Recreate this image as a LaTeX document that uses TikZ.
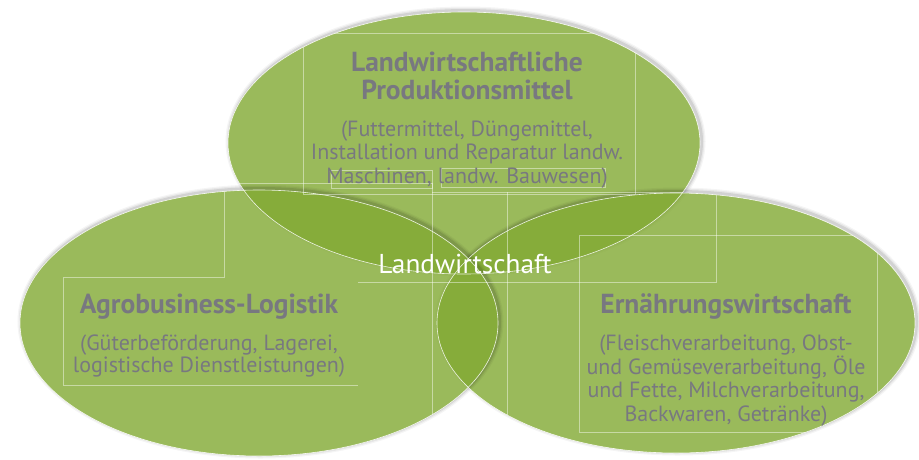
\documentclass[tikz,border=0pt]{standalone}
\usepackage{fontspec}
\setmainfont{PT Sans}
\definecolor{vgreen}{RGB}{129,169,50}
\definecolor{txtgray}{RGB}{120,120,128}
\newcommand\vennshape[3]{%
  \begin{scope}[even odd rule]
    \clip (-20,-20) rectangle (940,480) (#1) ellipse [x radius=#2, y radius=#3];
    \foreach \w/\o in {8/0.04,5.5/0.06,3/0.09}
      \draw[line width=\w pt, draw=black, draw opacity=\o] ([shift={(1.5,-1.5)}]#1) ellipse [x radius=#2, y radius=#3];
  \end{scope}
  \fill[venn] (#1) ellipse [x radius=#2, y radius=#3];
}
\newcommand\vennedge[3]{\draw[vedge] (#1) ellipse [x radius=#2, y radius=#3];}
\begin{document}
\begin{tikzpicture}[x=1pt,y=-1pt,
  venn/.style={fill=vgreen, fill opacity=0.8},
  vedge/.style={draw=white, line width=0.6pt, draw opacity=0.85},
  frame/.style={draw=white, line width=0.6pt, draw opacity=0.45},
  title/.style={text=txtgray, font=\bfseries\fontsize{27.5}{28}\selectfont, align=center, inner sep=0pt, anchor=base},
  sub/.style={text=txtgray, font=\fontsize{22}{23.3}\selectfont, align=center, inner sep=0pt, anchor=base},
  center label/.style={text=white, font=\fontsize{27.3}{30}\selectfont, inner sep=0pt, anchor=base},
]
\useasboundingbox (0,0) rectangle (919,459);
% ellipses: top, right, left
\vennshape{464,143}{236}{131}
\vennshape{676,323}{239}{130}
\vennshape{259,323}{239}{133}
\vennedge{464,143}{236}{131}
\vennedge{676,323}{239}{130}
\vennedge{259,323}{239}{133}
% faint text frames
\begin{scope}
  \clip (464,143) ellipse [x radius=236, y radius=131]
        (676,323) ellipse [x radius=239, y radius=130]
        (259,323) ellipse [x radius=239, y radius=133];
  \draw[frame] (303,33) rectangle (635,194);
  \draw[frame] (63,385) -- (63,277) -- (224,277) -- (224,183) -- (432,183);
  \draw[frame] (63,385) -- (358,385);
  \draw[frame] (432,183) -- (432,470);
  \draw[frame] (507,192) -- (507,470);
  \draw[frame] (432,192) -- (716,192) -- (716,282) -- (358,282);
  \draw[frame] (579,235) rectangle (877,432);
  \draw[frame] (331,170) rectangle (432,188);
  \draw[frame] (441,168) rectangle (605,187);
\end{scope}
% texts
\node[title] (ttop) at (467,99) {Landwirtschaftliche\\Produktionsmittel};
\node[sub] (stop) at (467,183) {(Futtermittel, Düngemittel,\\Installation und Reparatur landw.\\Maschinen, landw. Bauwesen)};
\node[title] (tleft) at (209,313) {Agrobusiness-Logistik};
\node[sub, font=\fontsize{22}{20}\selectfont] (sleft) at (209,372) {(Güterbeförderung, Lagerei,\\logistische Dienstleistungen)};
\node[title] (tright) at (726,313) {Ernährungswirtschaft};
\node[sub] (sright) at (726,421) {(Fleischverarbeitung, Obst-\\und Gemüseverarbeitung, Öle\\und Fette, Milchverarbeitung,\\Backwaren, Getränke)};
\node[center label] (core) at (465,273) {Landwirtschaft};
\end{tikzpicture}
\end{document}
